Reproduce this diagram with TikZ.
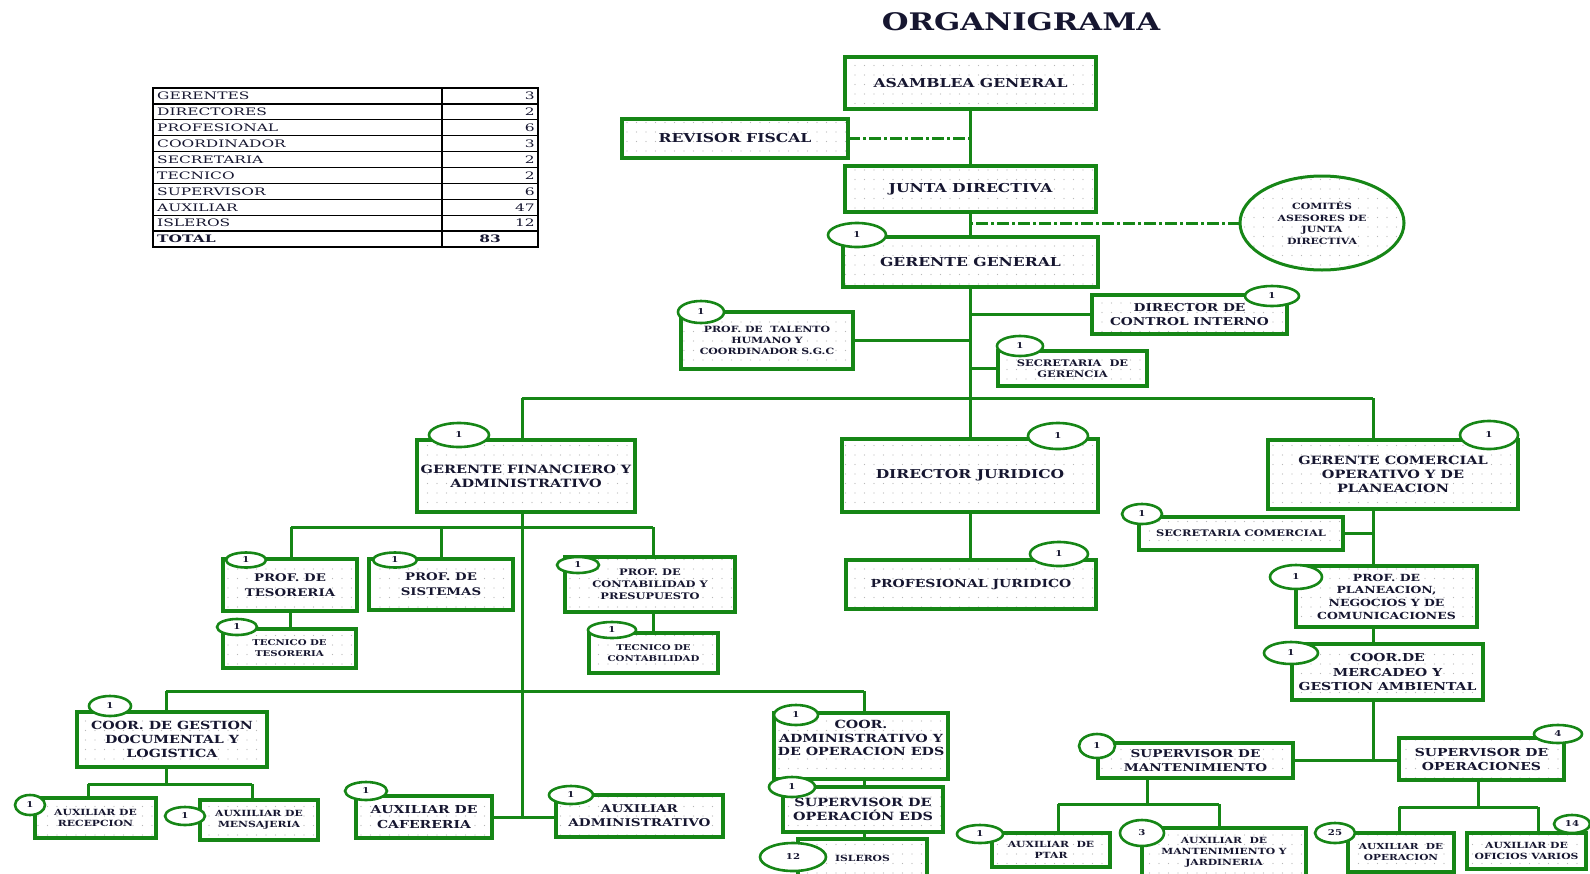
\documentclass[tikz,border=0pt]{standalone}
\usepackage{fontspec}
\newfontfamily\orgfont{DejaVu Serif}[FakeStretch=1.27]
\newfontfamily\tabfont{DejaVu Serif}[FakeStretch=1.5]
\usetikzlibrary{shapes.geometric,patterns.meta}
\pgfdeclarelayer{bg}
\pgfsetlayers{bg,main}
\definecolor{og}{RGB}{22,134,22}
\definecolor{txt}{RGB}{22,22,48}
\newcommand\bxf[2]{\orgfont\bfseries\fontsize{#1}{#2}\selectfont}
\newcommand\tbf{\tabfont\fontsize{10.3}{12}\selectfont}

\tikzset{
  corners/.style args={#1/#2/#3/#4}{anchor=north west, at={(#1,#2)},
    minimum width={#3-#1}, minimum height={#4-#2}},
  box/.style={rectangle, draw=og, line width=3.6pt, preaction={fill=white},
    pattern={Dots[distance=9.5pt,radius=0.55pt]}, pattern color=black!28,
    align=center, text=txt, inner sep=1pt, outer sep=0pt},
  badge/.style={ellipse, draw=og, line width=2.6pt, fill=white, inner sep=0pt,
    outer sep=0pt, text=txt, font=\bxf{8}{9}},
  conn/.style={draw=og, line width=3pt},
  dashdot/.style={draw=og, line width=3pt, dash pattern=on 12pt off 3pt on 3pt off 3pt},
  tabline/.style={draw=black, line width=1.4pt},
}

\begin{document}
\begin{tikzpicture}[x=1pt,y=-1pt]
\useasboundingbox (0,0) rectangle (1590,873);
\begin{scope}
\clip (0,0) rectangle (1590,873);

% ---------- title ----------
\node[font=\bxf{24.2}{28}, text=txt] (title) at (1021,22) {ORGANIGRAMA};

% ---------- staff summary table ----------
\draw[tabline] (153,88) rectangle (538,247);
\foreach \i in {1,...,8} \draw[tabline, line width=1.2pt] (153,{88+15.9*\i}) -- (538,{88+15.9*\i});
\draw[tabline, line width=2.6pt] (153,231) -- (538,231);
\draw[tabline] (442,88) -- (442,247);
\foreach \t/\v [count=\i] in {GERENTES/3,DIRECTORES/2,PROFESIONAL/6,COORDINADOR/3,SECRETARIA/2,TECNICO/2,SUPERVISOR/6,AUXILIAR/47,ISLEROS/12}{
  \node[anchor=west, font=\tbf, text=txt, inner sep=0pt, text height=7.5pt, text depth=0pt]
    (tl\i) at (157,{88+15.9*(\i-0.5)}) {\t};
  \node[anchor=east, font=\tbf, text=txt, inner sep=0pt, text height=7.5pt, text depth=0pt]
    (tv\i) at (535,{88+15.9*(\i-0.5)}) {\v};
}
\node[anchor=west, font=\tbf\bfseries, text=txt, inner sep=0pt, text height=7.5pt, text depth=0pt] (tltot) at (157,239) {TOTAL};
\node[font=\tbf\bfseries, text=txt, inner sep=0pt, text height=7.5pt, text depth=0pt] (tvtot) at (490,239) {83};

% ---------- top of the hierarchy ----------
\node[box, corners=845/57/1096/109, font=\bxf{12.3}{15}] (asam) {ASAMBLEA GENERAL};
\node[box, corners=622/119/848/158, font=\bxf{12.3}{15}] (rev) {REVISOR FISCAL};
\node[box, corners=845/166/1096/212, font=\bxf{12.3}{15}] (junta) {JUNTA DIRECTIVA};
\node[box, ellipse, line width=3pt, minimum width=164, minimum height=94, font=\bxf{8.6}{11.5}] (com) at (1322,223) {COMITÉS\\ASESORES DE\\JUNTA\\DIRECTIVA};
\node[box, corners=843/237/1098/287, font=\bxf{12.3}{15}] (gg) {GERENTE GENERAL};
\node[box, corners=1092/295/1287/334, font=\bxf{10.8}{13.5}] (dci) {DIRECTOR DE\\CONTROL INTERNO};
\node[box, corners=681/312/853/369, font=\bxf{8.6}{11}] (tal) {PROF. DE\ \ TALENTO\\HUMANO Y\\COORDINADOR S.G.C};
\node[box, corners=998/351/1147/386, font=\bxf{9}{11.5}] (secg) {SECRETARIA\ \ DE\\GERENCIA};

% ---------- second level ----------
\node[box, corners=417/440/635/512, font=\bxf{11.4}{14}] (gfa) {GERENTE FINANCIERO Y\\ADMINISTRATIVO};
\node[box, corners=842/439/1098/512, font=\bxf{12.2}{15}] (dj) {DIRECTOR JURIDICO};
\node[box, corners=1268/440/1518/509, font=\bxf{11.4}{14}] (gc) {GERENTE COMERCIAL\\OPERATIVO Y DE\\PLANEACION};
\node[box, corners=846/560/1096/609, font=\bxf{11}{14}] (pj) {PROFESIONAL JURIDICO};

% ---------- financial branch ----------
\node[box, corners=223/559/357/611, font=\bxf{10.5}{15}] (tes) {PROF. DE\\TESORERIA};
\node[box, corners=369/559/513/610, font=\bxf{10.5}{15}] (sis) {PROF. DE\\SISTEMAS};
\node[box, corners=565/557/735/612, font=\bxf{9}{12}] (cont) {PROF. DE\\CONTABILIDAD Y\\PRESUPUESTO};
\node[box, corners=223/629/356/668, font=\bxf{8}{11}] (ttes) {TECNICO DE\\TESORERIA};
\node[box, corners=589/633/718/673, font=\bxf{8}{11}] (tcont) {TECNICO DE\\CONTABILIDAD};
\node[box, corners=77/712/267/767, font=\bxf{11.2}{14}] (cgest) {COOR. DE GESTION\\DOCUMENTAL Y\\LOGISTICA};
\node[box, corners=35/798/156/838, font=\bxf{8.5}{11.3}] (arec) {AUXILIAR DE\\RECEPCION};
\node[box, corners=200/800/318/840, font=\bxf{8.5}{11.3}] (amen) {AUXIILIAR DE\\MENSAJERIA};
\node[box, corners=356/796/492/838, font=\bxf{11}{15}] (acaf) {AUXILIAR DE\\CAFERERIA};
\node[box, corners=556/795/723/837, font=\bxf{10.7}{14}] (aadm) {AUXILIAR\\ADMINISTRATIVO};
\node[box, corners=774/713/948/779, font=\bxf{11.2}{13.3}] (cadm) {COOR.\\ADMINISTRATIVO Y\\DE OPERACION EDS\\[3pt]\mbox{}};
\node[box, corners=783/787/943/832, font=\bxf{11.3}{14.3}] (sope) {SUPERVISOR DE\\OPERACIÓN EDS};
\node[box, corners=798/839/927/878, font=\bxf{8.5}{10}] (isl) {ISLEROS};

% ---------- commercial branch ----------
\node[box, corners=1139/517/1343/550, font=\bxf{9}{11}] (seccom) {SECRETARIA COMERCIAL};
\node[box, corners=1296/566/1477/627, font=\bxf{9.8}{12.7}] (pplan) {PROF. DE\\PLANEACION,\\NEGOCIOS Y DE\\COMUNICACIONES};
\node[box, corners=1292/644/1483/700, font=\bxf{11}{14.2}] (cmerc) {COOR.DE\\MERCADEO Y\\GESTION AMBIENTAL};
\node[box, corners=1098/743/1293/778, font=\bxf{10.7}{13.5}] (smant) {SUPERVISOR DE\\MANTENIMIENTO};
\node[box, corners=1399/738/1564/780, font=\bxf{11}{14}] (soper) {SUPERVISOR DE\\OPERACIONES};
\node[box, corners=992/833/1110/867, font=\bxf{8.5}{11}] (aptar) {AUXILIAR\ \ DE\\PTAR};
\node[box, corners=1142/828/1306/877, font=\bxf{8.5}{11}] (amj) {AUXILIAR\ \ DE\\MANTENIMIENTO Y\\JARDINERIA};
\node[box, corners=1348/833/1454/872, font=\bxf{8.3}{11}] (aop) {AUXILIAR\ \ DE\\OPERACION};
\node[box, corners=1467/833/1586/869, font=\bxf{8.5}{11}] (aof) {AUXILIAR DE\\OFICIOS VARIOS};

% ---------- head-count badges ----------
\node[badge, minimum width=58, minimum height=24] (bgg) at (857,235) {1};
\node[badge, minimum width=54, minimum height=20] (bdci) at (1272,296) {1};
\node[badge, minimum width=46, minimum height=22] (btal) at (701,312) {1};
\node[badge, minimum width=46, minimum height=20] (bsecg) at (1020,346) {1};
\node[badge, minimum width=60, minimum height=24] (bgfa) at (459,435) {1};
\node[badge, minimum width=60, minimum height=26] (bdj) at (1058,436) {1};
\node[badge, minimum width=58, minimum height=28] (bgc) at (1489,435) {1};
\node[badge, minimum width=58, minimum height=24] (bpj) at (1059,554) {1};
\node[badge, minimum width=40, minimum height=15] (btes) at (246,560) {1};
\node[badge, minimum width=44, minimum height=15] (bsis) at (395,560) {1};
\node[badge, minimum width=42, minimum height=16] (bcont) at (578,565) {1};
\node[badge, minimum width=40, minimum height=16] (bttes) at (237,627) {1};
\node[badge, minimum width=48, minimum height=16] (btcont) at (612,630) {1};
\node[badge, minimum width=40, minimum height=20] (bseccom) at (1142,514) {1};
\node[badge, minimum width=52, minimum height=24] (bpplan) at (1296,577) {1};
\node[badge, minimum width=54, minimum height=22] (bcmerc) at (1291,653) {1};
\node[badge, minimum width=42, minimum height=20] (bcgest) at (110,706) {1};
\node[badge, minimum width=30, minimum height=20] (barec) at (30,805) {1};
\node[badge, minimum width=40, minimum height=18] (bamen) at (185,816) {1};
\node[badge, minimum width=42, minimum height=18] (bacaf) at (366,791) {1};
\node[badge, minimum width=44, minimum height=18] (baadm) at (571,795) {1};
\node[badge, minimum width=44, minimum height=20] (bcadm) at (796,715) {1};
\node[badge, minimum width=46, minimum height=20] (bsope) at (792,787) {1};
\node[badge, minimum width=66, minimum height=28] (bisl) at (793,857) {12};
\node[badge, minimum width=36, minimum height=24] (bsmant) at (1097,746) {1};
\node[badge, minimum width=48, minimum height=18] (bsoper) at (1558,734) {4};
\node[badge, minimum width=46, minimum height=18] (baptar) at (980,834) {1};
\node[badge, minimum width=44, minimum height=26] (bamj) at (1142,833) {3};
\node[badge, minimum width=40, minimum height=20] (baop) at (1335,833) {25};
\node[badge, minimum width=36, minimum height=18] (baof) at (1572,824) {14};

% ---------- junction points of the connector buses ----------
\coordinate (busL) at (522,398);
\coordinate (busR) at (1373,398);
\coordinate (finL) at (291,527);
\coordinate (finR) at (653,527);
\coordinate (lowL) at (166,691);
\coordinate (lowR) at (864,691);
\coordinate (docL) at (88,784);
\coordinate (docR) at (252,784);
\coordinate (manM) at (1147,804);
\coordinate (manL) at (1058,804);
\coordinate (manR) at (1219,804);
\coordinate (opeM) at (1478,807);
\coordinate (opeL) at (1399,807);
\coordinate (opeR) at (1538,807);

% ---------- connectors ----------
\begin{pgfonlayer}{bg}
\draw[conn] (asam.south) -- (asam.south |- junta.north);
\draw[dashdot] (rev.east) -- (rev.east -| asam.south);
\draw[conn] (junta.south) -- (junta.south |- gg.north);
\draw[dashdot] (com.west) -- (com.west -| junta.south);
\draw[conn] (gg.south) -- (gg.south |- dj.north);
\draw[conn] (gg.south |- dci.west) -- (dci.west);
\draw[conn] (tal.east) -- (tal.east -| gg.south);
\draw[conn] (gg.south |- secg.west) -- (secg.west);
\draw[conn] (busL) -- (busR);
\draw[conn] (busL) -- (busL |- gfa.north);
\draw[conn] (busR) -- (busR |- gc.north);
\draw[conn] (dj.south) -- (dj.south |- pj.north);
% financial branch
\draw[conn] (busL |- gfa.south) -- (busL |- acaf.east);
\draw[conn] (acaf.east) -- (acaf.east -| aadm.west);
\draw[conn] (finL) -- (finR);
\draw[conn] (finL) -- (finL |- tes.north);
\draw[conn] (sis.north |- finL) -- (sis.north);
\draw[conn] (finR) -- (finR |- cont.north);
\draw[conn] (tes.south) -- (tes.south |- ttes.north);
\draw[conn] (finR |- cont.south) -- (finR |- tcont.north);
\draw[conn] (lowL) -- (lowR);
\draw[conn] (lowL) -- (lowL |- cgest.north);
\draw[conn] (lowR) -- (lowR |- cadm.north);
\draw[conn] (lowL |- cgest.south) -- (lowL |- docL);
\draw[conn] (docL) -- (docR);
\draw[conn] (docL) -- (docL |- arec.north);
\draw[conn] (docR) -- (docR |- amen.north);
\draw[conn] (lowR |- cadm.south) -- (lowR |- sope.north);
\draw[conn] (lowR |- sope.south) -- (lowR |- isl.north);
% commercial branch
\draw[conn] (busR |- gc.south) -- (busR |- pplan.north);
\draw[conn] (seccom.east) -- (seccom.east -| busR);
\draw[conn] (busR |- pplan.south) -- (busR |- cmerc.north);
\draw[conn] (busR |- cmerc.south) -- (busR |- smant.east);
\draw[conn] (smant.east) -- (smant.east -| soper.west);
\draw[conn] (manM |- smant.south) -- (manM);
\draw[conn] (manL) -- (manR);
\draw[conn] (manL) -- (manL |- aptar.north);
\draw[conn] (manR) -- (manR |- amj.north);
\draw[conn] (opeM |- soper.south) -- (opeM);
\draw[conn] (opeL) -- (opeR);
\draw[conn] (opeL) -- (opeL |- aop.north);
\draw[conn] (opeR) -- (opeR |- aof.north);
\end{pgfonlayer}
\end{scope}
\end{tikzpicture}
\end{document}
